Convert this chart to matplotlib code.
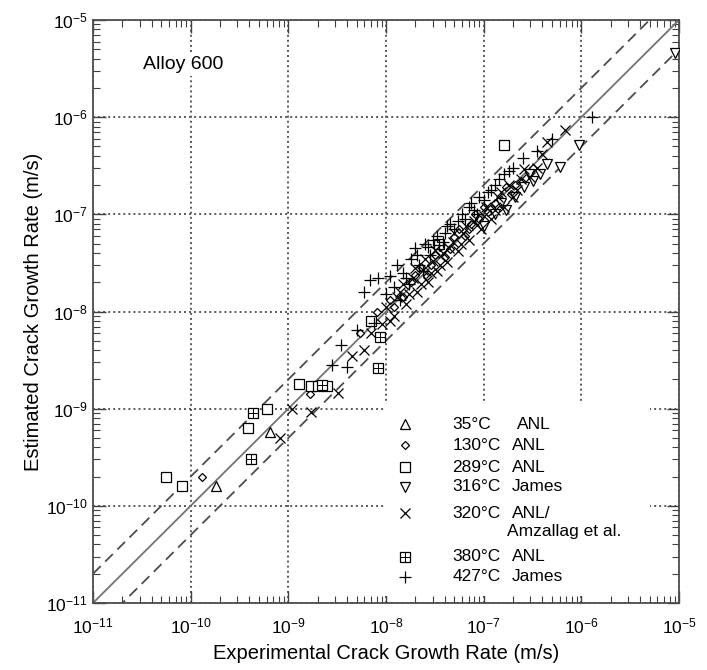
import numpy as np
import matplotlib.pyplot as plt

plt.rcParams["font.family"] = ["Liberation Sans", "DejaVu Sans"]
plt.rcParams["mathtext.default"] = "regular"

# crack growth rates, m/s (experimental, estimated)
anl35_exp = [1.8e-10, 6.5e-10]
anl35_est = [1.6e-10, 5.7e-10]

anl130_exp = [1.3e-10, 1.67e-9, 5.4e-9, 8.0e-9, 1.1e-8, 1.2e-8, 1.5e-8, 1.8e-8,
              2.0e-8, 2.3e-8, 2.6e-8, 2.9e-8, 3.2e-8, 3.6e-8, 4.0e-8, 4.5e-8,
              5.0e-8, 5.6e-8, 6.5e-8, 7.0e-8, 7.5e-8, 8.2e-8, 9.0e-8, 1.0e-7,
              1.1e-7, 1.2e-7, 1.3e-7, 1.5e-7, 1.7e-7, 1.9e-7, 2.1e-7, 2.4e-7,
              3.2e-7]
anl130_est = [2.0e-10, 1.4e-9, 6.0e-9, 1.0e-8, 1.3e-8, 1.1e-8, 1.4e-8, 2.0e-8,
              2.4e-8, 2.9e-8, 2.3e-8, 3.0e-8, 3.8e-8, 4.6e-8, 3.6e-8, 4.4e-8,
              5.8e-8, 7.0e-8, 6.0e-8, 7.0e-8, 8.0e-8, 1.0e-7, 9.0e-8, 1.2e-7,
              1.05e-7, 1.15e-7, 1.3e-7, 1.4e-7, 1.9e-7, 1.6e-7, 2.0e-7, 2.2e-7,
              3.0e-7]

anl289_exp = [5.6e-11, 8.2e-11, 3.9e-10, 6.0e-10, 1.3e-9, 1.7e-9, 2.0e-9,
              2.5e-9, 7.0e-9, 3.5e-8, 1.6e-7]
anl289_est = [2.0e-10, 1.6e-10, 6.3e-10, 1.0e-9, 1.8e-9, 1.7e-9, 1.7e-9,
              1.7e-9, 8.0e-9, 5.0e-8, 5.2e-7]

james316_exp = [1.0e-7, 1.3e-7, 1.5e-7, 1.7e-7, 2.1e-7, 2.6e-7, 2.9e-7, 3.2e-7,
                3.8e-7, 4.5e-7, 6.0e-7, 9.5e-7, 9.1e-6]
james316_est = [7.5e-8, 1.0e-7, 1.3e-7, 1.1e-7, 1.5e-7, 1.9e-7, 2.6e-7, 2.2e-7,
                2.6e-7, 3.3e-7, 3.1e-7, 5.2e-7, 4.6e-6]

anl320_exp = [8.2e-10, 1.1e-9, 1.7e-9, 3.2e-9, 4.5e-9, 6.0e-9, 7.0e-9, 9.0e-9,
              1.0e-8, 1.1e-8, 1.2e-8, 1.3e-8, 1.4e-8, 1.5e-8, 1.6e-8, 1.7e-8,
              1.9e-8, 2.0e-8, 2.1e-8, 2.3e-8, 2.4e-8, 2.5e-8, 2.7e-8, 2.9e-8,
              3.0e-8, 3.2e-8, 3.3e-8, 3.6e-8, 3.8e-8, 4.2e-8, 4.4e-8, 4.8e-8,
              5.0e-8, 5.5e-8, 5.8e-8, 6.2e-8, 6.6e-8, 7.0e-8, 8.0e-8, 8.5e-8,
              9.5e-8, 1.0e-7, 1.05e-7, 1.2e-7, 1.3e-7, 1.4e-7, 1.5e-7, 1.6e-7,
              1.8e-7, 2.0e-7, 2.2e-7, 2.4e-7, 2.6e-7, 3.0e-7, 3.5e-7, 4.0e-7,
              4.5e-7, 6.8e-7]
anl320_est = [5.0e-10, 1.0e-9, 9.3e-10, 1.45e-9, 3.5e-9, 4.0e-9, 6.0e-9, 7.5e-9,
              1.1e-8, 8.0e-9, 9.0e-9, 1.4e-8, 1.6e-8, 1.9e-8, 1.2e-8, 1.5e-8,
              2.2e-8, 2.8e-8, 1.6e-8, 1.9e-8, 2.7e-8, 3.5e-8, 2.0e-8, 2.5e-8,
              3.3e-8, 4.3e-8, 2.6e-8, 3.0e-8, 4.0e-8, 3.2e-8, 4.5e-8, 5.2e-8,
              6.5e-8, 4.2e-8, 5.0e-8, 6.5e-8, 7.5e-8, 5.5e-8, 8.5e-8, 7.8e-8,
              7.0e-8, 9.5e-8, 1.2e-7, 9.0e-8, 1.1e-7, 1.5e-7, 1.7e-7, 1.2e-7,
              2.0e-7, 1.5e-7, 1.8e-7, 2.3e-7, 2.9e-7, 2.4e-7, 3.0e-7, 4.2e-7,
              5.5e-7, 7.4e-7]

anl380_exp = [4.1e-10, 4.3e-10, 2.2e-9, 8.3e-9, 8.7e-9]
anl380_est = [3.0e-10, 9.1e-10, 1.75e-9, 2.6e-9, 5.5e-9]

james427_exp = [2.8e-9, 3.5e-9, 4.0e-9, 5.0e-9, 6.0e-9, 6.9e-9, 7.5e-9, 8.3e-9,
                1.0e-8, 1.1e-8, 1.2e-8, 1.3e-8, 1.4e-8, 1.5e-8, 1.6e-8, 1.7e-8,
                1.8e-8, 2.0e-8, 2.1e-8, 2.2e-8, 2.4e-8, 2.5e-8, 2.7e-8, 2.8e-8,
                3.0e-8, 3.3e-8, 3.5e-8, 3.8e-8, 4.0e-8, 4.2e-8, 4.5e-8, 5.0e-8,
                5.5e-8, 6.0e-8, 6.5e-8, 7.0e-8, 7.5e-8, 8.0e-8, 8.5e-8, 9.0e-8,
                1.0e-7, 1.1e-7, 1.2e-7, 1.3e-7, 1.45e-7, 1.6e-7, 1.8e-7, 2.0e-7,
                2.5e-7, 3.5e-7, 5.0e-7, 1.3e-6]
james427_est = [2.8e-9, 4.5e-9, 2.7e-9, 6.5e-9, 1.6e-8, 2.1e-8, 7.6e-9, 2.2e-8,
                1.5e-8, 2.3e-8, 1.8e-8, 3.0e-8, 1.3e-8, 2.5e-8, 2.2e-8, 1.9e-8,
                3.5e-8, 4.5e-8, 3.8e-8, 3.0e-8, 2.6e-8, 5.0e-8, 4.6e-8, 3.8e-8,
                5.5e-8, 6.0e-8, 4.8e-8, 5.2e-8, 6.5e-8, 7.5e-8, 8.0e-8, 7.0e-8,
                8.5e-8, 1.0e-7, 9.0e-8, 1.2e-7, 1.3e-7, 1.1e-7, 1.0e-7, 1.5e-7,
                1.4e-7, 1.7e-7, 1.8e-7, 2.0e-7, 2.3e-7, 2.6e-7, 2.8e-7, 3.0e-7,
                3.8e-7, 4.5e-7, 6.0e-7, 1.0e-6]

legend_temps = ["35°C", "130°C", "289°C", "316°C", "320°C", "380°C", "427°C"]
legend_sources = ["ANL", "ANL", "ANL", "James", "ANL/", "ANL", "James"]

rate_min, rate_max = 1e-11, 1e-5
decades = 10.0 ** np.arange(-11, -4)
band_factor = 2.0

open_kw = dict(linestyle="", markerfacecolor="white", markeredgecolor="black",
               markeredgewidth=0.9, zorder=3)
styles = [
    dict(marker="^", markersize=6.5, **open_kw),
    dict(marker="D", markersize=4.5, **open_kw),
    dict(marker="s", markersize=6.5, **open_kw),
    dict(marker="v", markersize=6.5, **open_kw),
    dict(marker="x", markersize=6.5, linestyle="", color="black",
         markeredgewidth=0.9, zorder=3),
    dict(marker="s", markersize=6.5, **open_kw),
    dict(marker="+", markersize=8, linestyle="", color="black",
         markeredgewidth=0.9, zorder=3),
]
cross_kw = dict(marker="+", markersize=6.5, linestyle="", color="black",
                markeredgewidth=0.7, zorder=4)


def main():
    fig = plt.figure(figsize=(7.07, 6.70), dpi=100)
    ax = fig.add_axes([93 / 707, 67 / 670, 586 / 707, 583 / 670])

    xs = np.array([rate_min, rate_max])
    ax.plot(xs, xs, color="0.45", linewidth=1.3, zorder=2)
    for f in (band_factor, 1 / band_factor):
        ax.plot(xs, xs * f, color="0.3", linewidth=1.3,
                dashes=(6, 3.5), zorder=2)

    series = [
        (anl35_exp, anl35_est),
        (anl130_exp, anl130_est),
        (anl289_exp, anl289_est),
        (james316_exp, james316_est),
        (anl320_exp, anl320_est),
        (anl380_exp, anl380_est),
        (james427_exp, james427_est),
    ]
    for (x, y), st in zip(series, styles):
        ax.plot(x, y, **st)
    ax.plot(anl380_exp, anl380_est, **cross_kw)

    ax.set_xscale("log")
    ax.set_yscale("log")
    ax.set_xticks(decades)
    ax.set_yticks(decades)
    ax.set_xlim(rate_min, rate_max)
    ax.set_ylim(rate_min, rate_max)
    ax.grid(which="major", color="0.35", linestyle=(0, (1, 1.6)),
            linewidth=1.4, zorder=1)
    ax.tick_params(which="both", direction="in", top=True, right=True,
                   labelsize=12.5, color="0.25")
    ax.tick_params(which="major", length=9, width=1.0)
    ax.tick_params(which="minor", length=5, width=0.8)
    ax.tick_params(axis="x", which="major", pad=10)
    ax.tick_params(axis="y", which="major", pad=4)
    for sp in ax.spines.values():
        sp.set_linewidth(1.3)
        sp.set_color("0.3")

    ax.set_xlabel("Experimental Crack Growth Rate (m/s)", fontsize=14.5,
                  labelpad=5)
    ax.set_ylabel("Estimated Crack Growth Rate (m/s)", fontsize=14.5,
                  labelpad=2)

    ax.text(0.085, 0.923, "Alloy 600", transform=ax.transAxes, fontsize=14,
            va="center", ha="left",
            bbox=dict(facecolor="white", edgecolor="none", pad=2))

    # legend panel drawn by hand so the source column lines up
    ax.add_patch(plt.Rectangle((0.498, 0.012), 0.452, 0.33,
                               transform=ax.transAxes, facecolor="white",
                               edgecolor="none", zorder=5))
    rows_y = [0.307, 0.271, 0.233, 0.199, 0.154, 0.079, 0.045]
    for i, (temp, src, st) in enumerate(zip(legend_temps, legend_sources,
                                            styles)):
        y = rows_y[i]
        kw = dict(st)
        kw["zorder"] = 6
        ax.plot([0.532], [y], transform=ax.transAxes, clip_on=False, **kw)
        if i == 5:
            ckw = dict(cross_kw)
            ckw["zorder"] = 7
            ax.plot([0.532], [y], transform=ax.transAxes, clip_on=False,
                    **ckw)
        ax.text(0.613, y, temp, transform=ax.transAxes, fontsize=12.5,
                va="center", ha="left", zorder=7)
        src_x = 0.724 if i == 0 else 0.715
        ax.text(src_x, y, src, transform=ax.transAxes, fontsize=12.5,
                va="center", ha="left", zorder=7)
    ax.text(0.706, 0.122, "Amzallag et al.", transform=ax.transAxes,
            fontsize=12.5, va="center", ha="left", zorder=7)

    fig.savefig("out.png", dpi=100)
    plt.close(fig)


if __name__ == "__main__":
    main()
